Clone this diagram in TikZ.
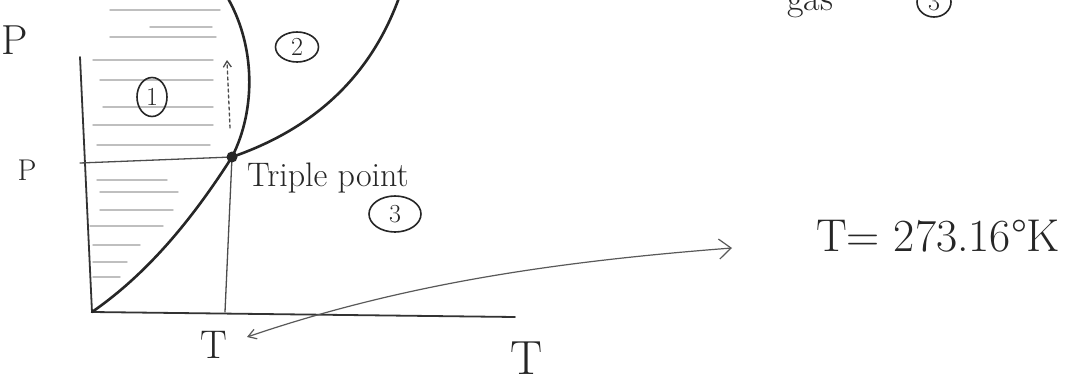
\documentclass[tikz,border=0pt]{standalone}
\usetikzlibrary{arrows.meta,shapes.geometric}
\begin{document}
\begin{tikzpicture}[x=1pt,y=-1pt,
  pen/.style={line width=2.6pt,draw=black!85,line cap=round},
  axis/.style={line width=1.8pt,draw=black!80,line cap=round},
  thin/.style={line width=1.3pt,draw=black!70,line cap=round},
  hatch/.style={line width=1.4pt,draw=black!25,line cap=round},
  lbl/.style={font=\fontsize{36}{38}\selectfont,text=black!85,inner sep=0pt},
  circ/.style={ellipse,draw=black!85,line width=1.6pt,inner sep=0pt,font=\fontsize{26}{28}\selectfont,text=black!85}]
\clip (0,0) rectangle (1076,388);
\fill[white] (0,0) rectangle (1076,388);
% coordinates
\coordinate (O) at (92,312);
\coordinate (Ytop) at (80,57);
\coordinate (Xend) at (515,317);
\coordinate (TP) at (232,157);
\coordinate (Pl) at (80,163);
\coordinate (Tb) at (225,312);
\coordinate (Mtop) at (226,-5);
\coordinate (Vtop) at (400,-5);
\coordinate (Dlow) at (230,128);
\coordinate (Dup) at (227,60);
\coordinate (Aleft) at (247,337);
\coordinate (Aright) at (732,248);
% hatching (region 1)
\foreach \y/\a/\b in {10/110/220, 27/150/212, 37/110/216, 60/93/213, 80/100/213, 107/103/213, 125/93/213, 145/97/210, 180/97/167, 192/100/178, 210/100/173, 226/90/163, 245/93/140, 262/93/127, 277/93/120}
  \draw[hatch] (\a,\y) -- (\b,\y);
% axes
\draw[axis] (Ytop) -- (O) -- (Xend);
% guide lines
\draw[thin] (Pl) -- (TP);
\draw[thin] (TP) -- (Tb);
% phase curves
\draw[pen] (O) .. controls (150,272) and (195,215) .. (TP);
\draw[pen] (TP) .. controls (256,110) and (256,45) .. (Mtop);
\draw[pen] (TP) .. controls (310,130) and (370,80) .. (Vtop);
\fill[black!85] (TP) circle (5.5pt);
% dashed arrow
\draw[thin,dashed,-{Straight Barb[length=6pt,width=8pt]}] (Dlow) -- (Dup);
% long arrow
\draw[line width=1.2pt,draw=black!65,{Straight Barb[length=8pt,width=10pt]}-{Straight Barb[length=12pt,width=20pt]}] (Aleft) .. controls (400,285) and (550,262) .. (Aright);
% labels
\node[lbl,font=\fontsize{42}{44}\selectfont] (Plab) at (15,40) {P};
\node[lbl,font=\fontsize{30}{32}\selectfont] (plab) at (27,170) {P};
\node[lbl,font=\fontsize{40}{42}\selectfont] (Tsmall) at (214,345) {T};
\node[lbl,font=\fontsize{48}{50}\selectfont] (Tbig) at (527,358) {T};
\node[lbl,anchor=base west,font=\fontsize{34}{36}\selectfont] (triple) at (247,186) {Triple point};
\node[circ,minimum width=30pt,minimum height=39pt] (c1) at (152,97) {1};
\node[circ,minimum width=43pt,minimum height=30pt] (c2) at (297,47) {2};
\node[circ,minimum width=52pt,minimum height=36pt] (c3) at (395,214) {3};
\node[lbl,anchor=west,font=\fontsize{46}{48}\selectfont] (Tval) at (816,236) {T= 273.16°K};
\node[lbl,font=\fontsize{36}{38}\selectfont,anchor=base] (gas) at (810,10) {gas};
\node[circ,minimum width=34pt,minimum height=30pt] (c3b) at (934,2) {3};
\end{tikzpicture}
\end{document}
